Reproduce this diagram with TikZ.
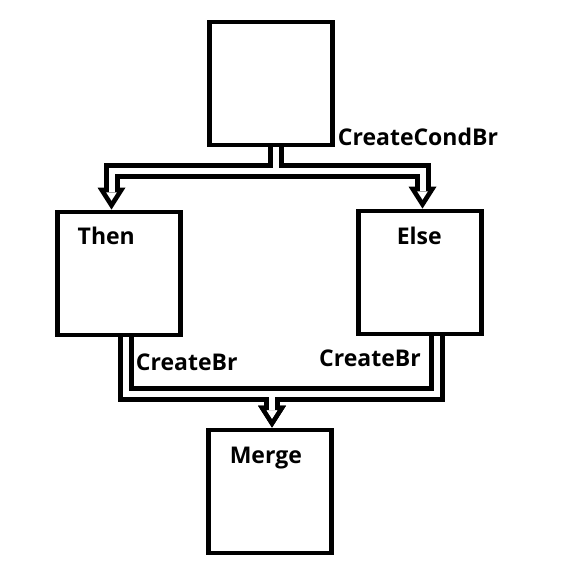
\documentclass[tikz,border=0pt]{standalone}
\usepackage{fontspec}
\newfontfamily\blockfont{Open Sans}
\usetikzlibrary{arrows.meta}

\tikzset{
  block/.style={draw, line width=4.8pt, minimum width=123pt, minimum height=123pt, inner sep=0pt},
  blocklabel/.style={anchor=base west, inner sep=0pt, font=\blockfont\bfseries\fontsize{23}{28}\selectfont},
  pipe/.style={line width=16pt, -{Triangle[width=28pt, length=22pt, line width=0pt]}},
  pipehole/.style={white, line width=6pt, shorten >=8.9pt, -{Triangle[width=10.6pt, length=8.3pt, line width=0pt]}}
}

\begin{document}
\begin{tikzpicture}[x=1pt, y=-1pt]
  \useasboundingbox (0,0) rectangle (587,587);
  \node [block] (cond) at (271,83.5) {};
  \node [block] (then) at (119,273.5) {};
  \node [block] (else) at (420,272.5) {};
  \node [block] (merge) at (270,491.5) {};

  \node [blocklabel] (thenlbl) at ([xshift=22.4pt, yshift=-34.9pt]then.north west) {Then};
  \node [blocklabel] (elselbl) at ([xshift=40.5pt, yshift=-35.9pt]else.north west) {Else};
  \node [blocklabel] (mergelbl) at ([xshift=23.5pt, yshift=-35.4pt]merge.north west) {Merge};
  \node [blocklabel] (condbr) at ([xshift=2.8pt, yshift=1.9pt]cond.south east) {CreateCondBr};
  \node [blocklabel] (thenbr) at ([xshift=16.7pt, yshift=-33pt]then.south) {CreateBr};
  \node [blocklabel, anchor=base east] (elsebr) at ([xshift=1pt, yshift=-30pt]else.south) {CreateBr};

  \coordinate (fork) at ([xshift=4.5pt, yshift=-24pt]cond.south);
  \coordinate (join) at ([xshift=2pt, yshift=34pt]merge.north);

  \foreach \s in {pipe, pipehole}{
    \draw [\s] ([xshift=4.5pt]cond.south) -- (fork) -| ([xshift=-7.5pt]then.north);
    \draw [\s] ([xshift=4.5pt]cond.south) -- (fork) -| ([xshift=2.5pt]else.north);
    \draw [\s] ([xshift=7pt]then.south) |- (join) -- (merge.north -| join);
    \draw [\s] ([xshift=16.5pt]else.south) |- (join) -- (merge.north -| join);
  };
\end{tikzpicture}
\end{document}
